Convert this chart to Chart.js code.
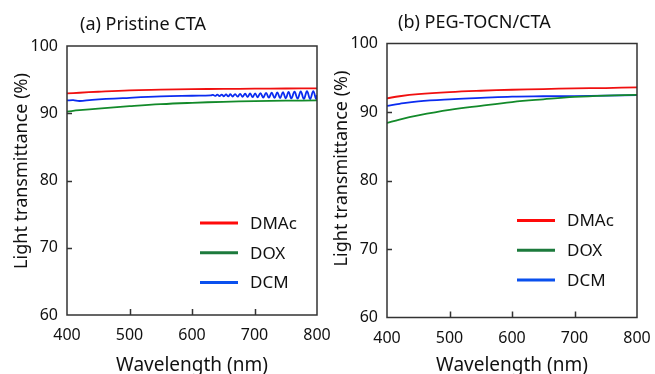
<!DOCTYPE html>
<html>
<head>
<meta charset="utf-8">
<script src="https://cdn.jsdelivr.net/npm/chart.js@4.4.1/dist/chart.umd.min.js"></script>
<style>
    html, body { margin: 0; padding: 0; background: #fff; width: 655px; height: 374px; overflow: hidden; }
    .panel { position: absolute; top: 0; }
    #panel-a { left: 0; }
    #panel-b { left: 320px; }
</style>
</head>
<body>
<div class="panel" id="panel-a"><canvas id="chart-a" width="340" height="392"></canvas></div>
<div class="panel" id="panel-b"><canvas id="chart-b" width="335" height="392"></canvas></div>
<script>
'use strict';

/* ── Data ── */
const SOLVENTS = ['DMAc', 'DOX', 'DCM'];
const X_TICKS = [400, 500, 600, 700, 800];
const Y_TICKS = [60, 70, 80, 90, 100];

const WL = [400, 420, 450, 500, 550, 600, 650, 700, 750, 800];

// (a) Pristine CTA
const A_DMAC = [92.95, 93.05, 93.2, 93.4, 93.5, 93.58, 93.62, 93.65, 93.68, 93.7];
const A_DOX = [90.25, 90.45, 90.7, 91.05, 91.35, 91.55, 91.7, 91.8, 91.87, 91.9];
// DCM film shows interference fringes above ~630 nm
const A_DCM_WL = [
    400, 410, 420, 440, 500, 550, 600, 630,
    633.5, 637, 640.5, 644, 647.5, 651, 654.5, 658, 661.5, 665,
    669, 673, 677, 681, 685, 689, 693, 697, 701, 705,
    709.5, 714, 718.5, 723, 727.5, 732, 736.5, 741, 745.5, 750,
    754.5, 759, 764, 769, 774, 779, 784, 789, 794, 798.5, 800,
];
const A_DCM = [
    91.9, 91.95, 91.82, 92.0, 92.3, 92.5, 92.6, 92.65,
    92.74, 92.57, 92.76, 92.55, 92.78, 92.53, 92.8, 92.51, 92.83, 92.49,
    92.85, 92.47, 92.88, 92.45, 92.91, 92.42, 92.94, 92.39, 92.97, 92.37,
    93.0, 92.34, 93.03, 92.31, 93.06, 92.28, 93.1, 92.25, 93.13, 92.22,
    93.16, 92.2, 93.2, 92.17, 93.24, 92.14, 93.28, 92.12, 93.3, 92.12, 92.7,
];

// (b) PEG-TOCN/CTA
const B_DMAC = [92.0, 92.3, 92.6, 92.9, 93.1, 93.25, 93.35, 93.45, 93.5, 93.6];
const B_DOX = [88.4, 88.9, 89.5, 90.3, 90.9, 91.45, 91.85, 92.2, 92.4, 92.5];
const B_DCM = [90.9, 91.2, 91.55, 91.85, 92.05, 92.25, 92.3, 92.32, 92.4, 92.45];

/* ── Colours ── */
const LINE_COLORS = ['#f01010', '#138a2a', '#0b2cf0'];
const KEY_COLORS = ['#ff0a0a', '#1c7a3c', '#0a50ee'];
const FONT = "'Noto Sans', 'Open Sans', sans-serif";

const pts = (xs, ys) => xs.map((x, i) => ({ x, y: ys[i] }));

/* ── Frame, inward ticks, inset key, y title and panel title ── */
const framePlugin = {
    id: 'frame',
    afterDatasetsDraw(chart, args, opts) {
        const { ctx, chartArea: a, scales: { x, y } } = chart;
        ctx.save();
        ctx.strokeStyle = '#333';
        ctx.lineWidth = 1.5;
        ctx.strokeRect(a.left, a.top, a.right - a.left, a.bottom - a.top);

        ctx.beginPath();
        X_TICKS.slice(1, -1).forEach(v => {
            const px = Math.round(x.getPixelForValue(v)) + 0.5;
            ctx.moveTo(px, a.bottom);
            ctx.lineTo(px, a.bottom - 6);
        });
        Y_TICKS.slice(1, -1).forEach(v => {
            const py = Math.round(y.getPixelForValue(v)) + 0.5;
            ctx.moveTo(a.left, py);
            ctx.lineTo(a.left + 5, py);
        });
        ctx.stroke();

        // key
        ctx.font = `17px ${FONT}`;
        ctx.textBaseline = 'middle';
        ctx.fillStyle = '#111';
        ctx.lineWidth = 3;
        chart.data.datasets.forEach((ds, i) => {
            const ly = a.top + 177 + i * 29.7;
            const lx = a.left + opts.keyX;
            ctx.strokeStyle = KEY_COLORS[i];
            ctx.beginPath();
            ctx.moveTo(lx, ly);
            ctx.lineTo(lx + 38, ly);
            ctx.stroke();
            ctx.fillText(ds.label, lx + 50, ly + 1);
        });

        // panel title
        ctx.font = `18px ${FONT}`;
        ctx.fillText(opts.title, a.left + opts.titleX, a.top - 21);

        // y axis title
        ctx.font = `18px ${FONT}`;
        ctx.textAlign = 'center';
        ctx.translate(22, a.top + 125);
        ctx.rotate(-Math.PI / 2);
        ctx.fillText('Light transmittance (%)', 0, 0);
        ctx.restore();
    },
};

function makeChart(id, datasets, title, pad, keyX, titleX) {
    return new Chart(document.getElementById(id), {
        type: 'line',
        data: {
            datasets: datasets.map((d, i) => ({
                label: SOLVENTS[i],
                data: d,
                borderColor: LINE_COLORS[i],
                borderWidth: 1.8,
                pointRadius: 0,
                tension: 0.4,
                fill: false,
            })),
        },
        options: {
            responsive: false,
            animation: false,
            layout: { padding: pad },
            plugins: {
                legend: { display: false },
                tooltip: { enabled: false },
                frame: { title, keyX, titleX },
            },
            scales: {
                x: {
                    type: 'linear',
                    min: 400, max: 800,
                    afterBuildTicks: s => { s.ticks = X_TICKS.map(v => ({ value: v })); },
                    afterFit: s => { s.height = 392 - 315 + pad.top - 46; s.paddingLeft = 0; s.paddingRight = 0; },
                    grid: { display: false, drawTicks: false },
                    border: { display: false },
                    ticks: { color: '#111', padding: 11, font: { family: FONT, size: 16 }, maxRotation: 0 },
                    title: {
                        display: true, text: 'Wavelength (nm)', color: '#111',
                        font: { family: FONT, size: 19 }, padding: { top: 0, bottom: 15 },
                    },
                },
                y: {
                    min: 60, max: 100,
                    afterBuildTicks: s => { s.ticks = Y_TICKS.map(v => ({ value: v })); },
                    afterFit: s => { s.width = 67; },
                    grid: { display: false, drawTicks: false },
                    border: { display: false },
                    ticks: { color: '#111', padding: 9, font: { family: FONT, size: 16 } },
                },
            },
        },
        plugins: [framePlugin],
    });
}

makeChart('chart-a',
    [pts(WL, A_DMAC), pts(WL, A_DOX), pts(A_DCM_WL, A_DCM)],
    '(a) Pristine CTA', { left: 0, top: 46, right: 23, bottom: 0 }, 133, 13);

makeChart('chart-b',
    [pts(WL, B_DMAC), pts(WL, B_DOX), pts(WL, B_DCM)],
    '(b) PEG-TOCN/CTA', { left: 0, top: 43.5, right: 18, bottom: 0 }, 130, 11);
</script>
</body>
</html>
